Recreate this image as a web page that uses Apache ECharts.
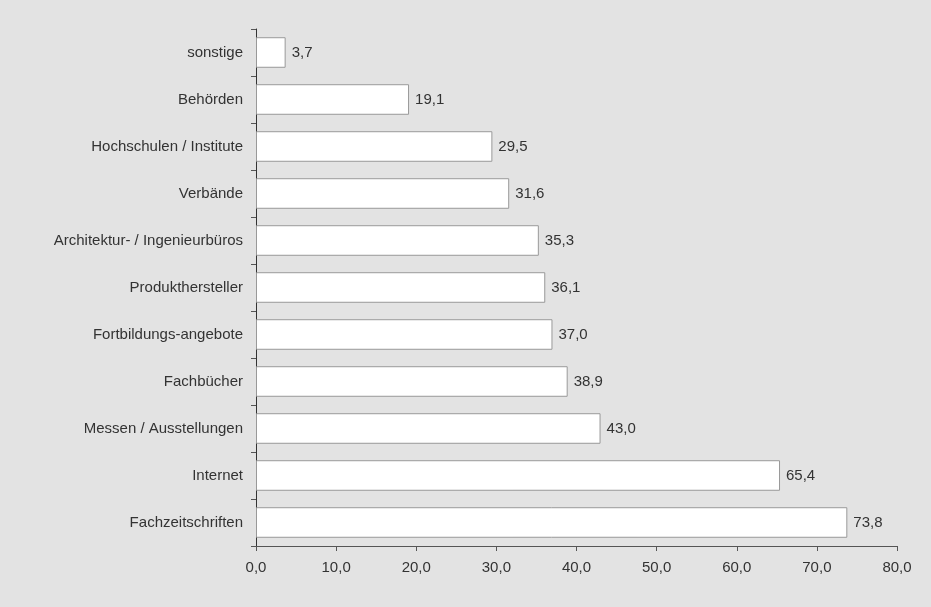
<!DOCTYPE html>
<html><head><meta charset="utf-8">
<script src="https://cdn.jsdelivr.net/npm/echarts@6/dist/echarts.min.js"></script>
<style>html,body{margin:0;padding:0;background:#e3e3e3}#c{width:931px;height:607px}</style>
</head><body><div id="c"></div>
<script>
var categories = ["Fachzeitschriften","Internet","Messen / Ausstellungen","Fachbücher","Fortbildungs-angebote","Produkthersteller","Architektur- / Ingenieurbüros","Verbände","Hochschulen / Institute","Behörden","sonstige"];
var values = [73.8,65.4,43.0,38.9,37.0,36.1,35.3,31.6,29.5,19.1,3.7];
var xTicks = [0,10,20,30,40,50,60,70,80];
function fmt(v){return Number(v).toFixed(1).replace('.',',');}
var chart = echarts.init(document.getElementById('c'));
chart.setOption({
  backgroundColor:'#e3e3e3',
  animation:false,
  textStyle:{fontFamily:'Liberation Sans, Arial, sans-serif'},
  grid:{left:256,right:34,top:29,bottom:61,containLabel:false},
  xAxis:{type:'value',min:xTicks[0],max:xTicks[xTicks.length-1],interval:10,
    axisLine:{show:true,lineStyle:{color:'#555',width:1}},
    axisTick:{show:true,length:5,lineStyle:{color:'#555'}},
    splitLine:{show:false},
    axisLabel:{color:'#333',fontSize:15,margin:14,formatter:fmt}},
  yAxis:{type:'category',data:categories,
    axisLine:{show:true,lineStyle:{color:'#333',width:1}},
    axisTick:{show:true,length:5,lineStyle:{color:'#555'}},
    axisLabel:{color:'#333',fontSize:15,margin:13}},
  series:[{type:'bar',data:values,barWidth:'65%',
    itemStyle:{color:'#ffffff',borderColor:'#999999',borderWidth:1},
    label:{show:true,position:'right',distance:6,color:'#333',fontSize:15,formatter:function(p){return fmt(p.value);}}}]
});
</script></body></html>
